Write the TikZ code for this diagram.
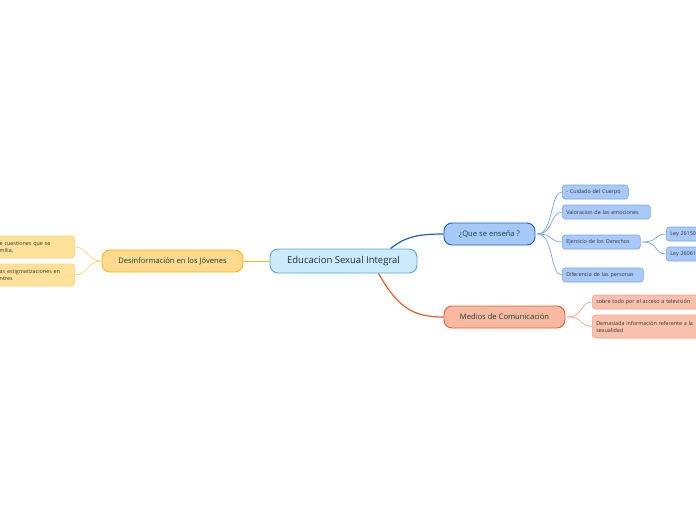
\documentclass[tikz,border=0pt]{standalone}
\usepackage{fontspec}
\setmainfont{Open Sans}
\definecolor{cfill}{HTML}{CBEAFB}
\definecolor{cdraw}{HTML}{54A7E1}
\definecolor{yfill}{HTML}{FFD98E}
\definecolor{ydraw}{HTML}{F6B71A}
\definecolor{ycfill}{HTML}{FFE19A}
\definecolor{ycdraw}{HTML}{FFD374}
\definecolor{bfill}{HTML}{A6C9F9}
\definecolor{bdraw}{HTML}{1A5FD0}
\definecolor{bcfill}{HTML}{A9C9F8}
\definecolor{bcdraw}{HTML}{78A5EE}
\definecolor{ofill}{HTML}{F8B9A2}
\definecolor{odraw}{HTML}{EF5B25}
\definecolor{ocfill}{HTML}{F8C1AE}
\definecolor{ocdraw}{HTML}{F2A489}
\definecolor{tgreen}{HTML}{173F35}
\definecolor{tnavy}{HTML}{1D2B4A}
\tikzset{
  central/.style={draw=cdraw, fill=cfill, line width=0.9pt, rounded corners=8pt, minimum width=147pt, minimum height=24pt, inner sep=0pt, font=\fontsize{9.5}{11}\selectfont, text=tnavy},
  mainbox/.style={line width=0.9pt, rounded corners=8pt, minimum height=22pt, inner sep=0pt, font=\fontsize{7.6}{9}\selectfont, text=tgreen},
  smallbox/.style={line width=0.6pt, rounded corners=3pt, inner xsep=4pt, inner ysep=0pt, align=left, anchor=west, font=\fontsize{5.4}{7}\selectfont, text=black!80},
  bc/.style={smallbox, draw=bcdraw, fill=bcfill, minimum height=14pt},
  oc/.style={smallbox, draw=ocdraw, fill=ocfill},
  yc/.style={smallbox, draw=ycdraw, fill=ycfill, minimum height=22pt, text width=71pt},
}
\begin{document}
\begin{tikzpicture}[x=1pt,y=-1pt]
\useasboundingbox (0,0) rectangle (696,520);
\fill[white] (0,0) rectangle (696,520);
\clip (0,0) rectangle (696,520);
% nodes
\node[central] (c) at (343.5,261) {Educacion Sexual Integral};
\node[mainbox, draw=ydraw, fill=yfill, minimum width=141pt] (d) at (172.5,261) {Desinformación en los Jóvenes};
\node[mainbox, draw=bdraw, fill=bfill, minimum width=91pt] (q) at (489.5,234) {¿Que se enseña ?};
\node[mainbox, draw=odraw, fill=ofill, minimum width=121pt] (m) at (504.5,317) {Medios de Comunicación};
% left children
\node[yc, anchor=east] (y1) at (75,247) {e cuestiones que se\\milia,};
\node[yc, anchor=east] (y2) at (75,275) {as estigmatizaciones en\\ntres};
% blue children
\node[bc, text width=58pt] (b1) at (562,192) {- Cuidado del Cuerpo};
\node[bc, text width=80pt] (b2) at (562,212) {Valoracion de las emociones};
\node[bc, text width=70pt] (b3) at (562,242) {Ejercicio de los Derechos};
\node[bc, text width=73pt] (b4) at (562,275) {Diferencia de las personas};
\node[bc, text width=52pt] (l1) at (666,234) {Ley 26150};
\node[bc, text width=52pt] (l2) at (666,254) {Ley 26061};
% orange children
\node[oc, minimum height=14pt, text width=132pt] (o1) at (592,302) {sobre todo por el acceso a televisión};
\node[oc, minimum height=23pt, text width=132pt] (o2) at (592,326.5) {Demasiada información referente a la\\sexualidad};
% connectors
\draw[ydraw, line width=1pt] (c.west) -- (d.east);
\draw[bdraw, line width=1.2pt] ([xshift=47pt]c.north) .. controls +(15,-12) and +(-25,0) .. (q.west);
\draw[odraw, line width=1.2pt] ([xshift=35pt]c.south) .. controls +(20,35) and +(-30,0) .. (m.west);
\draw[ycdraw, line width=0.7pt] (d.west) .. controls +(-14,0) and +(12,0) .. (y1.east);
\draw[ycdraw, line width=0.7pt] (d.west) .. controls +(-14,0) and +(12,0) .. (y2.east);
\foreach \t in {b1,b2,b3,b4}
  \draw[bcdraw, line width=0.7pt] ([xshift=2pt]q.east) .. controls +(16,0) and +(-12,0) .. (\t.west);
\foreach \t in {l1,l2}
  \draw[bcdraw, line width=0.7pt] ([xshift=2pt]b3.east) .. controls +(16,0) and +(-12,0) .. (\t.west);
\foreach \t in {o1,o2}
  \draw[ocdraw, line width=0.7pt] ([xshift=2pt]m.east) .. controls +(16,0) and +(-12,0) .. (\t.west);
\end{tikzpicture}
\end{document}
